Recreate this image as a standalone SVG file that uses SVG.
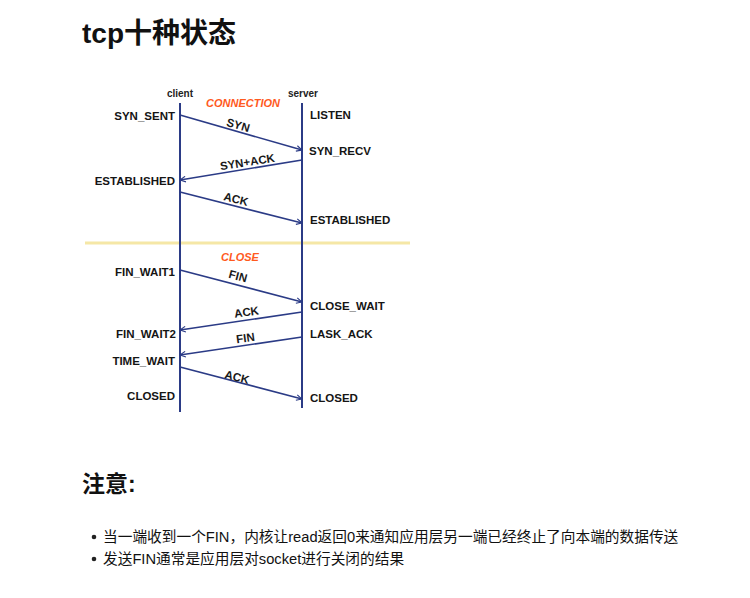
<svg xmlns="http://www.w3.org/2000/svg" width="750" height="598" viewBox="0 0 750 598">
<style>
.t{font-family:"Liberation Sans","Noto Sans CJK SC",sans-serif;fill:#111}
.lab{font-family:"Liberation Sans",Arial,sans-serif;font-weight:bold;font-size:11.5px;fill:#151515}
.hd{font-family:"Liberation Sans",Arial,sans-serif;font-weight:bold;font-size:10px;fill:#222}
.ph{font-family:"Liberation Sans",Arial,sans-serif;font-weight:bold;font-style:italic;font-size:11px;fill:#ff5a1e}
.life{stroke:#2b3b86;stroke-width:2}
.msg{stroke:#2b3b86;stroke-width:1.6;fill:none;marker-end:url(#ah)}
.ml{font-family:"Liberation Sans",Arial,sans-serif;font-weight:bold;font-size:11.5px;fill:#1a1a1a;text-anchor:middle}
</style>
<defs>
<marker id="ah" viewBox="0 0 10 10" refX="9" refY="5" markerWidth="7" markerHeight="7" orient="auto" markerUnits="userSpaceOnUse">
<path d="M1,1 L9,5 L1,9" fill="none" stroke="#2b3b86" stroke-width="1.6"/>
</marker>
</defs>
<rect width="750" height="598" fill="#fff"/>
<text class="t" x="82" y="43" font-size="28" font-weight="bold">tcp十种状态</text>

<line x1="85" y1="243" x2="410" y2="243" stroke="#f5e7a6" stroke-width="3"/>

<g id="client">
<line class="life" x1="180" y1="103" x2="180" y2="412"/>
<text class="hd" x="180" y="97" text-anchor="middle">client</text>
</g>
<g id="server">
<line class="life" x1="302" y1="103" x2="302" y2="408"/>
<text class="hd" x="303" y="97" text-anchor="middle">server</text>
</g>
<text class="ph" x="243" y="107" text-anchor="middle">CONNECTION</text>
<text class="ph" x="240" y="261" text-anchor="middle">CLOSE</text>

<g id="client-states">
<text class="lab" x="175" y="120" text-anchor="end">SYN_SENT</text>
<text class="lab" x="175" y="185" text-anchor="end">ESTABLISHED</text>
<text class="lab" x="175" y="276" text-anchor="end">FIN_WAIT1</text>
<text class="lab" x="176" y="338" text-anchor="end">FIN_WAIT2</text>
<text class="lab" x="175" y="365" text-anchor="end">TIME_WAIT</text>
<text class="lab" x="175" y="400" text-anchor="end">CLOSED</text>
</g>
<g id="server-states">
<text class="lab" x="310" y="119">LISTEN</text>
<text class="lab" x="309" y="155">SYN_RECV</text>
<text class="lab" x="310" y="224">ESTABLISHED</text>
<text class="lab" x="310" y="310">CLOSE_WAIT</text>
<text class="lab" x="310" y="338">LASK_ACK</text>
<text class="lab" x="310" y="402">CLOSED</text>
</g>

<g id="connectors">
<line class="msg" x1="180" y1="115" x2="302" y2="150"/>
<line class="msg" x1="302" y1="160" x2="180" y2="180"/>
<line class="msg" x1="180" y1="192" x2="302" y2="223"/>
<line class="msg" x1="180" y1="270" x2="302" y2="302"/>
<line class="msg" x1="302" y1="312" x2="180" y2="330"/>
<line class="msg" x1="302" y1="337" x2="180" y2="355"/>
<line class="msg" x1="180" y1="367" x2="302" y2="399"/>
<text class="ml" transform="translate(237,129) rotate(16)">SYN</text>
<text class="ml" transform="translate(248,166) rotate(-9)">SYN+ACK</text>
<text class="ml" transform="translate(235,203) rotate(14)">ACK</text>
<text class="ml" transform="translate(237,280) rotate(15)">FIN</text>
<text class="ml" transform="translate(247,316) rotate(-8)">ACK</text>
<text class="ml" transform="translate(246,342) rotate(-8)">FIN</text>
<text class="ml" transform="translate(236,381) rotate(14)">ACK</text>
</g>

<text class="t" x="82" y="492" font-size="23" font-weight="bold">注意:</text>
<circle cx="94" cy="537" r="2.3" fill="#222"/>
<text class="t" x="103" y="542" font-size="14.7" fill="#222">当一端收到一个FIN，内核让read返回0来通知应用层另一端已经终止了向本端的数据传送</text>
<circle cx="94" cy="559" r="2.3" fill="#222"/>
<text class="t" x="103" y="564" font-size="14.7" fill="#222">发送FIN通常是应用层对socket进行关闭的结果</text>
</svg>
